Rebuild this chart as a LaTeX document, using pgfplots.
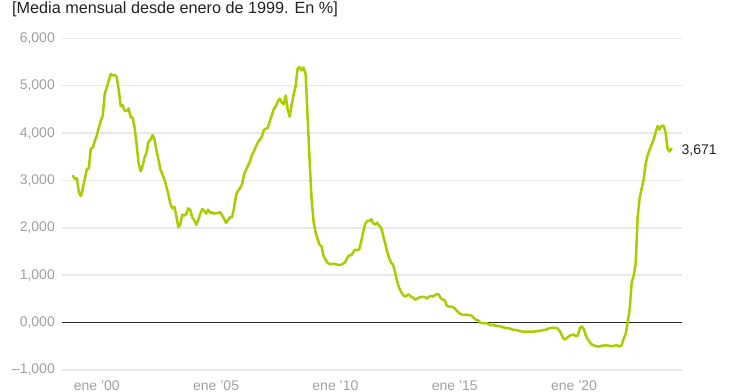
\documentclass[border=0pt]{standalone}
\usepackage{pgfplots}
\pgfplotsset{compat=1.18}
\usepackage{pgfplotstable}
\usetikzlibrary{calc}
\usepackage{fontspec}
\setmainfont{Liberation Sans}
\definecolor{lime}{RGB}{170,204,0}
\definecolor{gridgray}{RGB}{232,232,232}
\definecolor{ticklab}{RGB}{160,160,160}
\definecolor{txt}{RGB}{34,34,34}

\pgfplotstableread{
y
3.094
3.033
3.048
2.749
2.671
2.839
3.042
3.239
3.252
3.676
3.691
3.830
3.949
4.109
4.264
4.371
4.829
4.961
5.108
5.246
5.216
5.222
5.188
4.921
4.574
4.591
4.468
4.471
4.521
4.334
4.329
4.118
3.770
3.377
3.195
3.299
3.481
3.589
3.816
3.862
3.958
3.869
3.642
3.440
3.236
3.126
3.017
2.872
2.705
2.504
2.411
2.447
2.252
2.014
2.075
2.279
2.258
2.292
2.411
2.381
2.220
2.159
2.063
2.160
2.298
2.399
2.361
2.301
2.382
2.313
2.328
2.301
2.312
2.310
2.335
2.265
2.193
2.103
2.168
2.223
2.220
2.414
2.684
2.783
2.833
2.914
3.105
3.221
3.308
3.401
3.539
3.615
3.715
3.799
3.864
3.921
4.064
4.094
4.106
4.253
4.373
4.505
4.564
4.666
4.725
4.647
4.607
4.793
4.498
4.349
4.590
4.820
4.994
5.361
5.393
5.323
5.384
5.248
4.350
3.452
2.622
2.135
1.909
1.771
1.644
1.610
1.412
1.334
1.261
1.243
1.231
1.242
1.232
1.225
1.215
1.225
1.249
1.281
1.373
1.421
1.420
1.495
1.541
1.526
1.550
1.714
1.924
2.086
2.147
2.144
2.183
2.097
2.067
2.110
2.044
2.004
1.837
1.678
1.499
1.368
1.266
1.219
1.061
0.877
0.740
0.650
0.588
0.549
0.575
0.594
0.545
0.528
0.484
0.507
0.525
0.542
0.543
0.541
0.506
0.543
0.562
0.549
0.577
0.604
0.592
0.513
0.488
0.469
0.362
0.338
0.335
0.329
0.298
0.255
0.212
0.180
0.165
0.163
0.167
0.161
0.154
0.128
0.079
0.059
0.042
-0.008
-0.012
-0.010
-0.013
-0.028
-0.056
-0.048
-0.057
-0.069
-0.074
-0.080
-0.095
-0.106
-0.110
-0.119
-0.127
-0.149
-0.154
-0.156
-0.168
-0.180
-0.189
-0.190
-0.189
-0.191
-0.191
-0.190
-0.188
-0.181
-0.180
-0.169
-0.166
-0.154
-0.147
-0.129
-0.116
-0.108
-0.109
-0.112
-0.134
-0.190
-0.283
-0.356
-0.339
-0.304
-0.272
-0.261
-0.253
-0.288
-0.266
-0.108
-0.081
-0.147
-0.279
-0.358
-0.415
-0.466
-0.481
-0.497
-0.505
-0.501
-0.487
-0.484
-0.481
-0.484
-0.491
-0.498
-0.492
-0.477
-0.487
-0.502
-0.477
-0.335
-0.237
0.013
0.287
0.852
0.992
1.249
2.233
2.629
2.828
3.018
3.337
3.534
3.647
3.757
3.862
4.007
4.149
4.073
4.149
4.160
4.022
3.679
3.609
3.671
}\euribor

\begin{document}
\begin{tikzpicture}
\begin{axis}[
  scale only axis, width=620pt, height=331.7pt,
  xmin=-5.5, xmax=306.3, ymin=-1, ymax=6,
  axis line style={draw=none},
  major tick length=0pt,
  ymajorgrids,
  major grid style={gridgray, line width=1.5pt},
  ytick={-1,0,1,2,3,4,5,6},
  yticklabels={{–1,000},{0,000},{1,000},{2,000},{3,000},{4,000},{5,000},{6,000}},
  yticklabel style={font=\fontsize{14}{16}\selectfont, text=ticklab, anchor=east, inner sep=0pt, xshift=-7pt},
  xtick={12,72,132,192,252},
  xticklabels={{ene '00},{ene '05},{ene '10},{ene '15},{ene '20}},
  xticklabel style={font=\fontsize{14}{16}\selectfont, text=ticklab, anchor=north, inner sep=0pt, yshift=-11pt},
  clip=false,
]
\coordinate (bl) at (rel axis cs:0,0);
\addplot[black!85, line width=1.1pt, forget plot] coordinates {(-5.5,0) (306.3,0)};
\addplot[lime, line width=2.5pt, line join=round, line cap=round] table[x expr=\coordindex, y=y] {\euribor};
\node[anchor=west, inner sep=0pt, text=txt, font=\fontsize{14}{16}\selectfont, xshift=10pt, yshift=-2pt] at (axis cs:301,3.671) {3,671};
\end{axis}
\path[use as bounding box] ($(bl)+(-62pt,-19pt)$) rectangle ($(bl)+(678pt,370pt)$);
\node[anchor=base west, inner sep=0pt, text=txt] at ($(bl)+(-50pt,356pt)$)
  {\fontsize{16.2}{19}\selectfont [Media mensual desde enero de 1999. En \%]};
\end{tikzpicture}
\end{document}
